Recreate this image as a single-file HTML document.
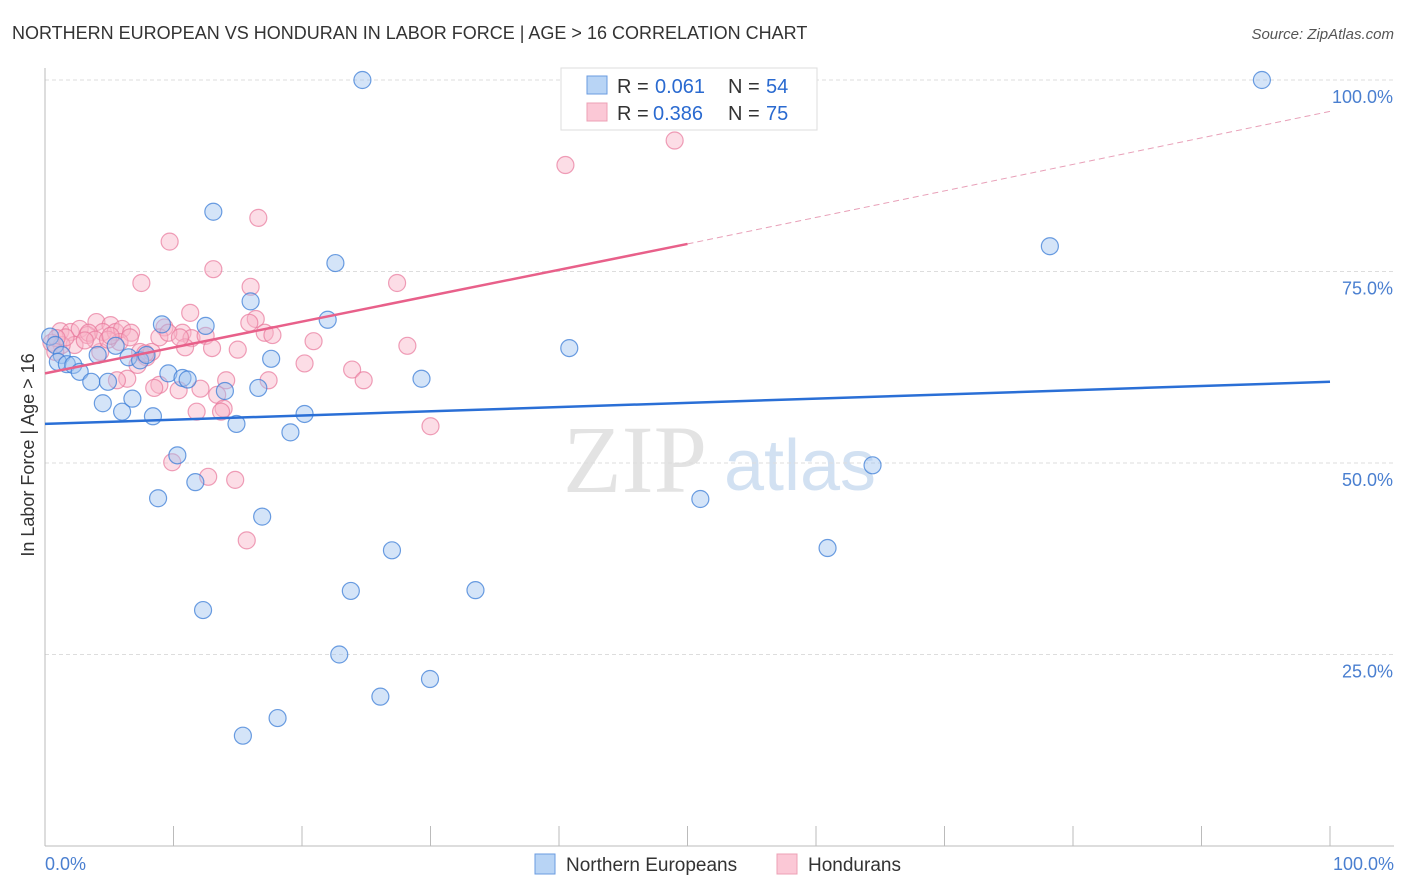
<!DOCTYPE html>
<html><head><meta charset="utf-8"><style>
body{margin:0;background:#fff;font-family:"Liberation Sans",sans-serif;}
svg{display:block}
</style></head><body>
<svg id="chart" width="1406" height="892">
<text x="12" y="39" font-size="18" fill="#333">NORTHERN EUROPEAN VS HONDURAN IN LABOR FORCE | AGE &gt; 16 CORRELATION CHART</text>
<text x="1394" y="39" font-size="15" fill="#555" text-anchor="end" font-style="italic">Source: ZipAtlas.com</text>
<g>
<text x="635" y="492" font-size="96" fill="#ddd" font-family="Liberation Serif,serif" text-anchor="middle" opacity="0.8">ZIP</text>
<text x="800" y="490" font-size="72" fill="#c8daf0" text-anchor="middle" opacity="0.8">atlas</text>
</g>
<g id="grid"></g>
<g id="axes"></g>
<g id="points"></g>
<g id="trends"></g>
<text transform="translate(34,455) rotate(-90)" font-size="18" fill="#333" text-anchor="middle">In Labor Force | Age &gt; 16</text>
<g>
<rect x="561" y="68" width="256" height="62" fill="#fff" stroke="#ddd"/>
<rect x="587" y="76" width="20" height="18" fill="#b8d4f5" stroke="#6a9be0"/>
<text y="93" font-size="20" fill="#333"><tspan x="617">R =</tspan><tspan x="655" fill="#2a6ad0">0.061</tspan><tspan x="728">N =</tspan><tspan x="766" fill="#2a6ad0">54</tspan></text>
<rect x="587" y="103" width="20" height="18" fill="#fbc8d6" stroke="#eda0b5"/>
<text y="120" font-size="20" fill="#333"><tspan x="617">R =</tspan><tspan x="653" fill="#2a6ad0">0.386</tspan><tspan x="728">N =</tspan><tspan x="766" fill="#2a6ad0">75</tspan></text>
</g>
<g>
<rect x="535" y="854" width="20" height="20" fill="#b8d4f5" stroke="#6a9be0"/>
<text x="566" y="871" font-size="19" fill="#333">Northern Europeans</text>
<rect x="777" y="854" width="20" height="20" fill="#fbc8d6" stroke="#eda0b5"/>
<text x="808" y="871" font-size="19" fill="#333">Hondurans</text>
</g>
<text x="45" y="870" font-size="18" fill="#4a7fd0">0.0%</text>
<text x="1394" y="870" font-size="18" fill="#4a7fd0" text-anchor="end">100.0%</text>
</svg>
<script>
const yTicks=[100,75,50,25];
const yTickLabels=["100.0%","75.0%","50.0%","25.0%"];
const blueX=[24.7,94.7,13.1,78.2,22.6,16.0,9.1,12.5,22.0,0.4,0.8,1.3,1.0,1.7,2.2,2.7,3.6,4.1,4.9,5.5,6.5,7.4,7.9,9.6,10.7,11.1,14.0,17.6,29.3,40.8,4.5,6.0,6.8,8.4,16.6,20.2,14.9,19.1,10.3,8.8,11.7,16.9,27.0,51.0,64.4,60.9,23.8,33.5,12.3,22.9,29.96,26.1,18.1,15.4];
const blueY=[100,100,82.8,78.3,76.1,71.1,68.1,67.9,68.7,66.5,65.4,64.1,63.2,62.9,62.8,61.9,60.6,64.1,60.6,65.3,63.8,63.4,64.1,61.7,61.1,60.9,59.4,63.6,61.0,65.0,57.8,56.7,58.4,56.1,59.8,56.4,55.1,54.0,51.0,45.4,47.5,43.0,38.6,45.3,49.7,38.9,33.3,33.4,30.8,25.0,21.8,19.5,16.7,14.4];
const pinkX=[41.5,49.0,40.5,16.6,9.7,13.1,7.5,16.0,27.4,11.3,16.4,15.9,9.3,10.7,4.0,5.1,1.2,2.0,2.7,3.3,4.5,5.5,6.0,6.7,11.4,12.5,17.1,17.7,20.9,28.2,10.9,13.0,15.0,5.8,2.3,1.3,0.5,4.3,7.4,7.9,8.3,7.2,20.2,23.9,24.8,17.4,14.1,8.9,10.4,12.1,6.4,5.6,13.4,8.5,11.8,13.9,13.7,30.0,9.9,12.7,14.8,15.7,3.4,3.9,4.9,1.6,3.1,5.1,6.6,7.8,8.9,9.6,10.5,0.9,0.8];
const pinkY=[100,92.1,88.9,82.0,78.9,75.3,73.5,73.0,73.5,69.6,68.8,68.3,67.7,67.0,68.4,68.0,67.2,67.1,67.5,66.7,67.1,67.1,67.5,67.0,66.3,66.6,67.0,66.7,65.9,65.3,65.1,65.0,64.8,65.8,65.4,65.4,65.7,64.5,64.5,63.8,64.5,62.8,63.0,62.2,60.8,60.8,60.8,60.2,59.5,59.7,61.0,60.8,58.9,59.8,56.7,57.1,56.7,54.8,50.1,48.2,47.8,39.9,67.0,66.1,66.1,66.4,66.0,66.6,66.4,64.3,66.4,67.0,66.4,66.3,64.5];
const blueTrend=[55.1,60.6];
const pinkTrend=[61.7,78.6,95.9];
const X0=45,X1=1330,Y0=846,PY=7.66;
const sx=v=>X0+(X1-X0)*v/100, sy=v=>Y0-PY*v;
const NS="http://www.w3.org/2000/svg";
function mk(tag,attrs,parent){const e=document.createElementNS(NS,tag);for(const k in attrs)e.setAttribute(k,attrs[k]);parent.appendChild(e);return e;}
const grid=document.getElementById('grid'),axes=document.getElementById('axes'),pts=document.getElementById('points'),tr=document.getElementById('trends');
yTicks.forEach((t,i)=>{
 const l=mk('line',{x1:X0,x2:1394,y1:sy(t),y2:sy(t),stroke:'#ddd','stroke-dasharray':'4,3'},grid);
 
 
 const tx=mk('text',{x:1393,y:sy(t)+23,'font-size':18,fill:'#4a7fd0','text-anchor':'end'},grid);
 tx.textContent=yTickLabels[i];
 
 
});
const ya=mk('line',{x1:X0,x2:X0,y1:68,y2:846,stroke:'#bbb'},axes);


const xa=mk('line',{x1:X0,x2:1394,y1:846,y2:846,stroke:'#bbb'},axes);


for(let i=0;i<=10;i++){
 const t=mk('line',{x1:sx(i*10),x2:sx(i*10),y1:826,y2:846,stroke:'#bbb'},axes);
 
 
}
pinkX.forEach((x,i)=>{
 const c=mk('circle',{cx:sx(x),cy:sy(pinkY[i]),r:8.5,fill:'rgba(248,180,200,0.45)',stroke:'rgba(232,120,155,0.7)','stroke-width':1.2},pts);
 
 
});
blueX.forEach((x,i)=>{
 const c=mk('circle',{cx:sx(x),cy:sy(blueY[i]),r:8.5,fill:'rgba(160,195,240,0.45)',stroke:'rgba(60,125,215,0.75)','stroke-width':1.2},pts);
 
 
});
const bl=mk('line',{x1:sx(0),y1:sy(blueTrend[0]),x2:sx(100),y2:sy(blueTrend[1]),stroke:'#2a6fd6','stroke-width':2.5},tr);


const pl=mk('line',{x1:sx(0),y1:sy(pinkTrend[0]),x2:sx(50),y2:sy(pinkTrend[1]),stroke:'#e8608a','stroke-width':2.5},tr);


const pd=mk('line',{x1:sx(50),y1:sy(pinkTrend[1]),x2:sx(100),y2:sy(pinkTrend[2]),stroke:'#e8a0b8','stroke-width':1,'stroke-dasharray':'6,4'},tr);


</script>
</body></html>
